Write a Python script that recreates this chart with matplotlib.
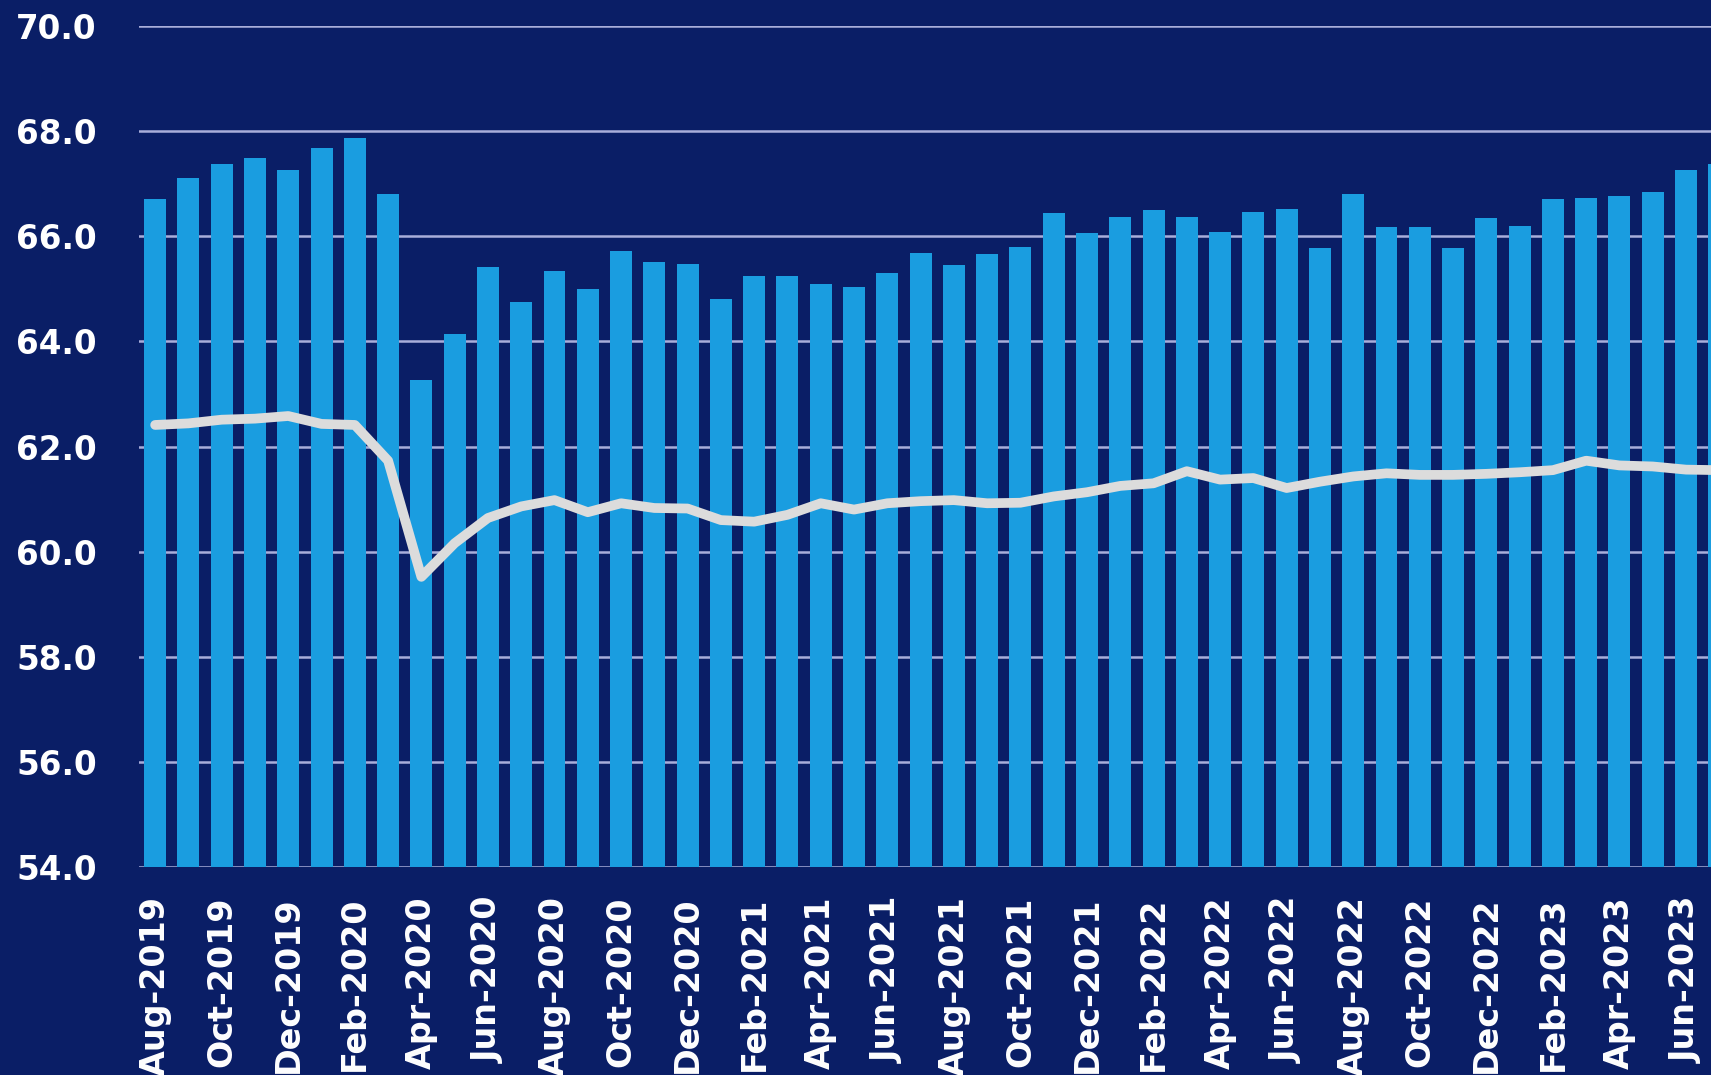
import matplotlib
matplotlib.use("Agg")
import matplotlib.pyplot as plt
import numpy as np

months = ["Aug-2019", "Sep-2019", "Oct-2019", "Nov-2019", "Dec-2019",
          "Jan-2020", "Feb-2020", "Mar-2020", "Apr-2020", "May-2020", "Jun-2020",
          "Jul-2020", "Aug-2020", "Sep-2020", "Oct-2020", "Nov-2020", "Dec-2020",
          "Jan-2021", "Feb-2021", "Mar-2021", "Apr-2021", "May-2021", "Jun-2021",
          "Jul-2021", "Aug-2021", "Sep-2021", "Oct-2021", "Nov-2021", "Dec-2021",
          "Jan-2022", "Feb-2022", "Mar-2022", "Apr-2022", "May-2022", "Jun-2022",
          "Jul-2022", "Aug-2022", "Sep-2022", "Oct-2022", "Nov-2022", "Dec-2022",
          "Jan-2023", "Feb-2023", "Mar-2023", "Apr-2023", "May-2023", "Jun-2023",
          "Jul-2023"]

bar_values = [66.71, 67.10, 67.37, 67.48, 67.26,
              67.67, 67.87, 66.81, 63.26, 64.14, 65.42, 64.75, 65.33, 65.00, 65.72, 65.51, 65.48,
              64.81, 65.25, 65.24, 65.10, 65.04, 65.30, 65.69, 65.45, 65.66, 65.79, 66.45, 66.07,
              66.36, 66.50, 66.37, 66.08, 66.46, 66.51, 65.77, 66.81, 66.17, 66.17, 65.78, 66.34,
              66.20, 66.70, 66.73, 66.76, 66.84, 67.26, 67.37]

line_values = [62.41, 62.44, 62.51, 62.53, 62.58,
               62.43, 62.41, 61.73, 59.52, 60.16, 60.64, 60.86, 60.98, 60.75, 60.92, 60.83, 60.82,
               60.60, 60.57, 60.70, 60.92, 60.80, 60.92, 60.96, 60.98, 60.92, 60.93, 61.05, 61.13,
               61.25, 61.30, 61.53, 61.37, 61.40, 61.21, 61.33, 61.43, 61.49, 61.46, 61.46, 61.48,
               61.51, 61.55, 61.73, 61.64, 61.62, 61.56, 61.55]

y_ticks = [54.0, 56.0, 58.0, 60.0, 62.0, 64.0, 66.0, 68.0, 70.0]

BG = "#0A1E66"
BAR = "#1A9DE0"
LINE = "#DCDCDC"
GRID = "#A9AEDA"

W, H = 1711, 1075
fig = plt.figure(figsize=(W / 100, H / 100), dpi=100, facecolor=BG)
left = 138.5 / W
bottom = 1 - 867 / H
top = 1 - 26 / H
width = 48 * 33.28 / W
ax = fig.add_axes([left, bottom, width, top - bottom], facecolor=BG)

x = np.arange(len(months))
ax.bar(x, bar_values, width=0.66, color=BAR, zorder=2)
ax.plot(x, line_values, color=LINE, linewidth=7, solid_joinstyle="round",
        solid_capstyle="round", zorder=3)

ax.set_ylim(54, 70)
ax.set_xlim(-0.5, len(months) - 0.5)
ax.set_yticks(y_ticks)
ax.set_yticklabels([f"{v:.1f}" for v in y_ticks])
ax.yaxis.grid(True, color=GRID, linewidth=1.8, zorder=1)
ax.set_axisbelow(True)

ax.set_xticks(x[::2])
ax.set_xticklabels(months[::2], rotation=90)

for s in ax.spines.values():
    s.set_visible(False)

ax.tick_params(axis="y", length=0, pad=30, labelcolor="white", labelsize=23.5)
ax.tick_params(axis="x", length=0, pad=21, labelcolor="white", labelsize=24)
for t in ax.get_yticklabels():
    t.set_fontweight("bold")
for t in ax.get_xticklabels():
    t.set_fontweight("bold")

fig.savefig("out.png", dpi=100, facecolor=BG)
